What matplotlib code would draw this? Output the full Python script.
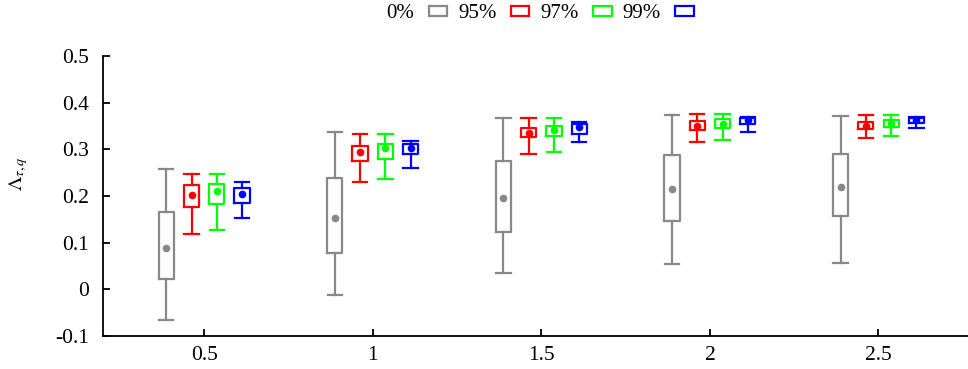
import numpy as np
import matplotlib.pyplot as plt
from matplotlib.patches import Rectangle

plt.rcParams['font.family'] = ['Liberation Serif', 'DejaVu Serif']
plt.rcParams['mathtext.fontset'] = 'stix'

# data
groups = [0.5, 1.0, 1.5, 2.0, 2.5]
labels = ['0%', '95%', '97%', '99%']
colors = ['#888888', '#ff0000', '#00ff00', '#0000ff']
offsets = [-0.1125, -0.0375, 0.0375, 0.1125]

# per series: one value per group
whis_lo = [
    [-0.066, -0.012, 0.035, 0.055, 0.057],
    [0.119, 0.230, 0.291, 0.316, 0.324],
    [0.127, 0.236, 0.295, 0.320, 0.329],
    [0.154, 0.260, 0.316, 0.337, 0.345],
]
box_lo = [
    [0.022, 0.079, 0.122, 0.146, 0.157],
    [0.177, 0.276, 0.326, 0.342, 0.344],
    [0.182, 0.279, 0.329, 0.345, 0.347],
    [0.185, 0.291, 0.334, 0.354, 0.357],
]
mid = [
    [0.089, 0.154, 0.195, 0.215, 0.220],
    [0.203, 0.294, 0.336, 0.351, 0.351],
    [0.210, 0.303, 0.342, 0.355, 0.356],
    [0.205, 0.302, 0.347, 0.363, 0.363],
]
box_hi = [
    [0.166, 0.238, 0.276, 0.289, 0.291],
    [0.223, 0.308, 0.346, 0.360, 0.359],
    [0.226, 0.312, 0.351, 0.365, 0.363],
    [0.218, 0.311, 0.355, 0.368, 0.368],
]
whis_hi = [
    [0.258, 0.337, 0.367, 0.374, 0.372],
    [0.247, 0.332, 0.367, 0.375, 0.374],
    [0.247, 0.332, 0.367, 0.375, 0.374],
    [0.231, 0.319, 0.358, 0.370, 0.370],
]

fig = plt.figure(figsize=(9.68, 3.69), dpi=100)
ax = fig.add_axes([0.1064, 0.0894, 0.9056, 0.7586])

w = 0.045
for s in range(4):
    stats = []
    for g in range(len(groups)):
        stats.append(dict(whislo=whis_lo[s][g], q1=box_lo[s][g], med=mid[s][g],
                          q3=box_hi[s][g], whishi=whis_hi[s][g], mean=mid[s][g]))
    pos = [g + offsets[s] for g in groups]
    c = colors[s]
    ax.bxp(stats, positions=pos, widths=w, capwidths=w * 0.95, showmeans=True,
           showfliers=False, manage_ticks=False,
           boxprops=dict(color=c, linewidth=1.6),
           whiskerprops=dict(color=c, linewidth=1.6),
           capprops=dict(color=c, linewidth=1.6),
           medianprops=dict(linewidth=0),
           meanprops=dict(marker='o', markerfacecolor=c, markeredgecolor=c,
                          markersize=4.5))

ax.set_xlim(0.2, 2.8)
ax.set_ylim(-0.1, 0.5)
ax.set_xticks(groups)
ax.set_xticklabels(['0.5', '1', '1.5', '2', '2.5'])
ax.set_yticks(np.arange(-0.1, 0.51, 0.1))
ax.set_yticklabels(['-0.1', '0', '0.1', '0.2', '0.3', '0.4', '0.5'])
ax.spines['top'].set_visible(False)
ax.spines['right'].set_visible(False)
ax.spines['left'].set_linewidth(1.3)
ax.spines['bottom'].set_linewidth(1.3)
ax.tick_params(direction='in', length=5, width=1.3, labelsize=15.5, pad=7)
ax.tick_params(axis='y', pad=10)

fig.text(0.019, 1 - 174 / 369, r'$\Lambda_{\tau,q}$', rotation=90,
         ha='center', va='center', fontsize=14.5)

handles = [Rectangle((0, 0), 1, 1, facecolor='none', edgecolor=c, linewidth=1.6)
           for c in colors]
fig.legend(handles, labels, ncol=4, loc='center', bbox_to_anchor=(0.558, 0.963),
           frameon=False, markerfirst=False, fontsize=15, handlelength=0.9,
           handleheight=0.35, handletextpad=0.67, columnspacing=0.53)

fig.savefig('out.png', dpi=100)
